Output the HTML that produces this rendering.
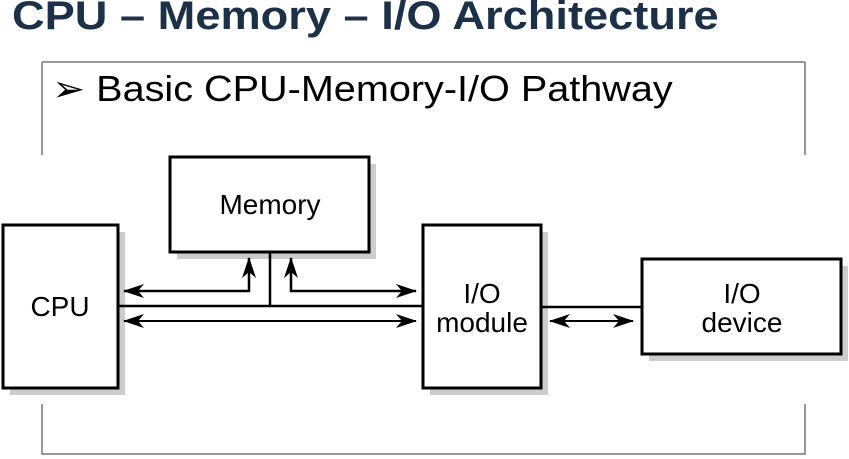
<!DOCTYPE html>
<html><head><style>
body{margin:0;width:849px;height:459px;background:#fff;overflow:hidden;position:relative;font-family:"Liberation Sans",sans-serif}
.t{position:absolute;left:12px;top:-6px;font-size:40px;font-weight:bold;color:#1c3048;white-space:nowrap;transform-origin:0 0;transform:scaleX(1.13)}
.s{position:absolute;left:52px;top:68px;font-size:36px;color:#000;white-space:nowrap;transform-origin:0 0;transform:scaleX(1.1)}
</style></head><body>
<div class="t">CPU – Memory – I/O Architecture</div>
<svg width="849" height="459" style="position:absolute;left:0;top:0">
<defs><marker id="a" markerWidth="22" markerHeight="14" refX="20" refY="7" orient="auto-start-reverse" markerUnits="userSpaceOnUse"><path d="M0,0 L21,7 L0,14 L6,7 Z" fill="#000"/></marker></defs>
<g stroke="#777" stroke-width="1.5" fill="none">
<path d="M42,62 H805"/>
<path d="M42,62 V155 M42,404 V454 H805 V404 M805,62 V155"/>
</g>
<g fill="#ccc">
<rect x="10" y="232" width="115" height="163"/><rect x="177" y="164" width="199" height="95"/>
<rect x="430" y="232" width="118" height="163"/><rect x="649" y="266" width="199" height="95"/>
</g>
<g fill="#fff" stroke="#000" stroke-width="3">
<rect x="3" y="225" width="115" height="163"/><rect x="170" y="157" width="199" height="95"/>
<rect x="423" y="225" width="118" height="163"/><rect x="642" y="259" width="199" height="95"/>
</g>
<g stroke="#000" fill="none">
<path d="M118,306 H423 M270,252 V306 M541,307 H642" stroke-width="2.5"/>
<polyline points="124,291 249,291 249,258" stroke-width="2.5" marker-start="url(#a)" marker-end="url(#a)"/>
<polyline points="291,258 291,291 416,291" stroke-width="2.5" marker-start="url(#a)" marker-end="url(#a)"/>
<line x1="124" y1="321" x2="416" y2="321" stroke-width="2" marker-start="url(#a)" marker-end="url(#a)"/>
<line x1="550" y1="321" x2="633" y2="321" stroke-width="2" marker-start="url(#a)" marker-end="url(#a)"/>
</g>
<g font-family="Liberation Sans,sans-serif" font-size="28" text-anchor="middle" fill="#000">
<text x="60" y="316">CPU</text><text x="270" y="214">Memory</text>
<text x="482" y="303">I/O</text><text x="482" y="332">module</text>
<text x="742" y="303">I/O</text><text x="742" y="332">device</text>
</g>
</svg>
<div class="s">➢ Basic CPU-Memory-I/O Pathway</div>
</body></html>
